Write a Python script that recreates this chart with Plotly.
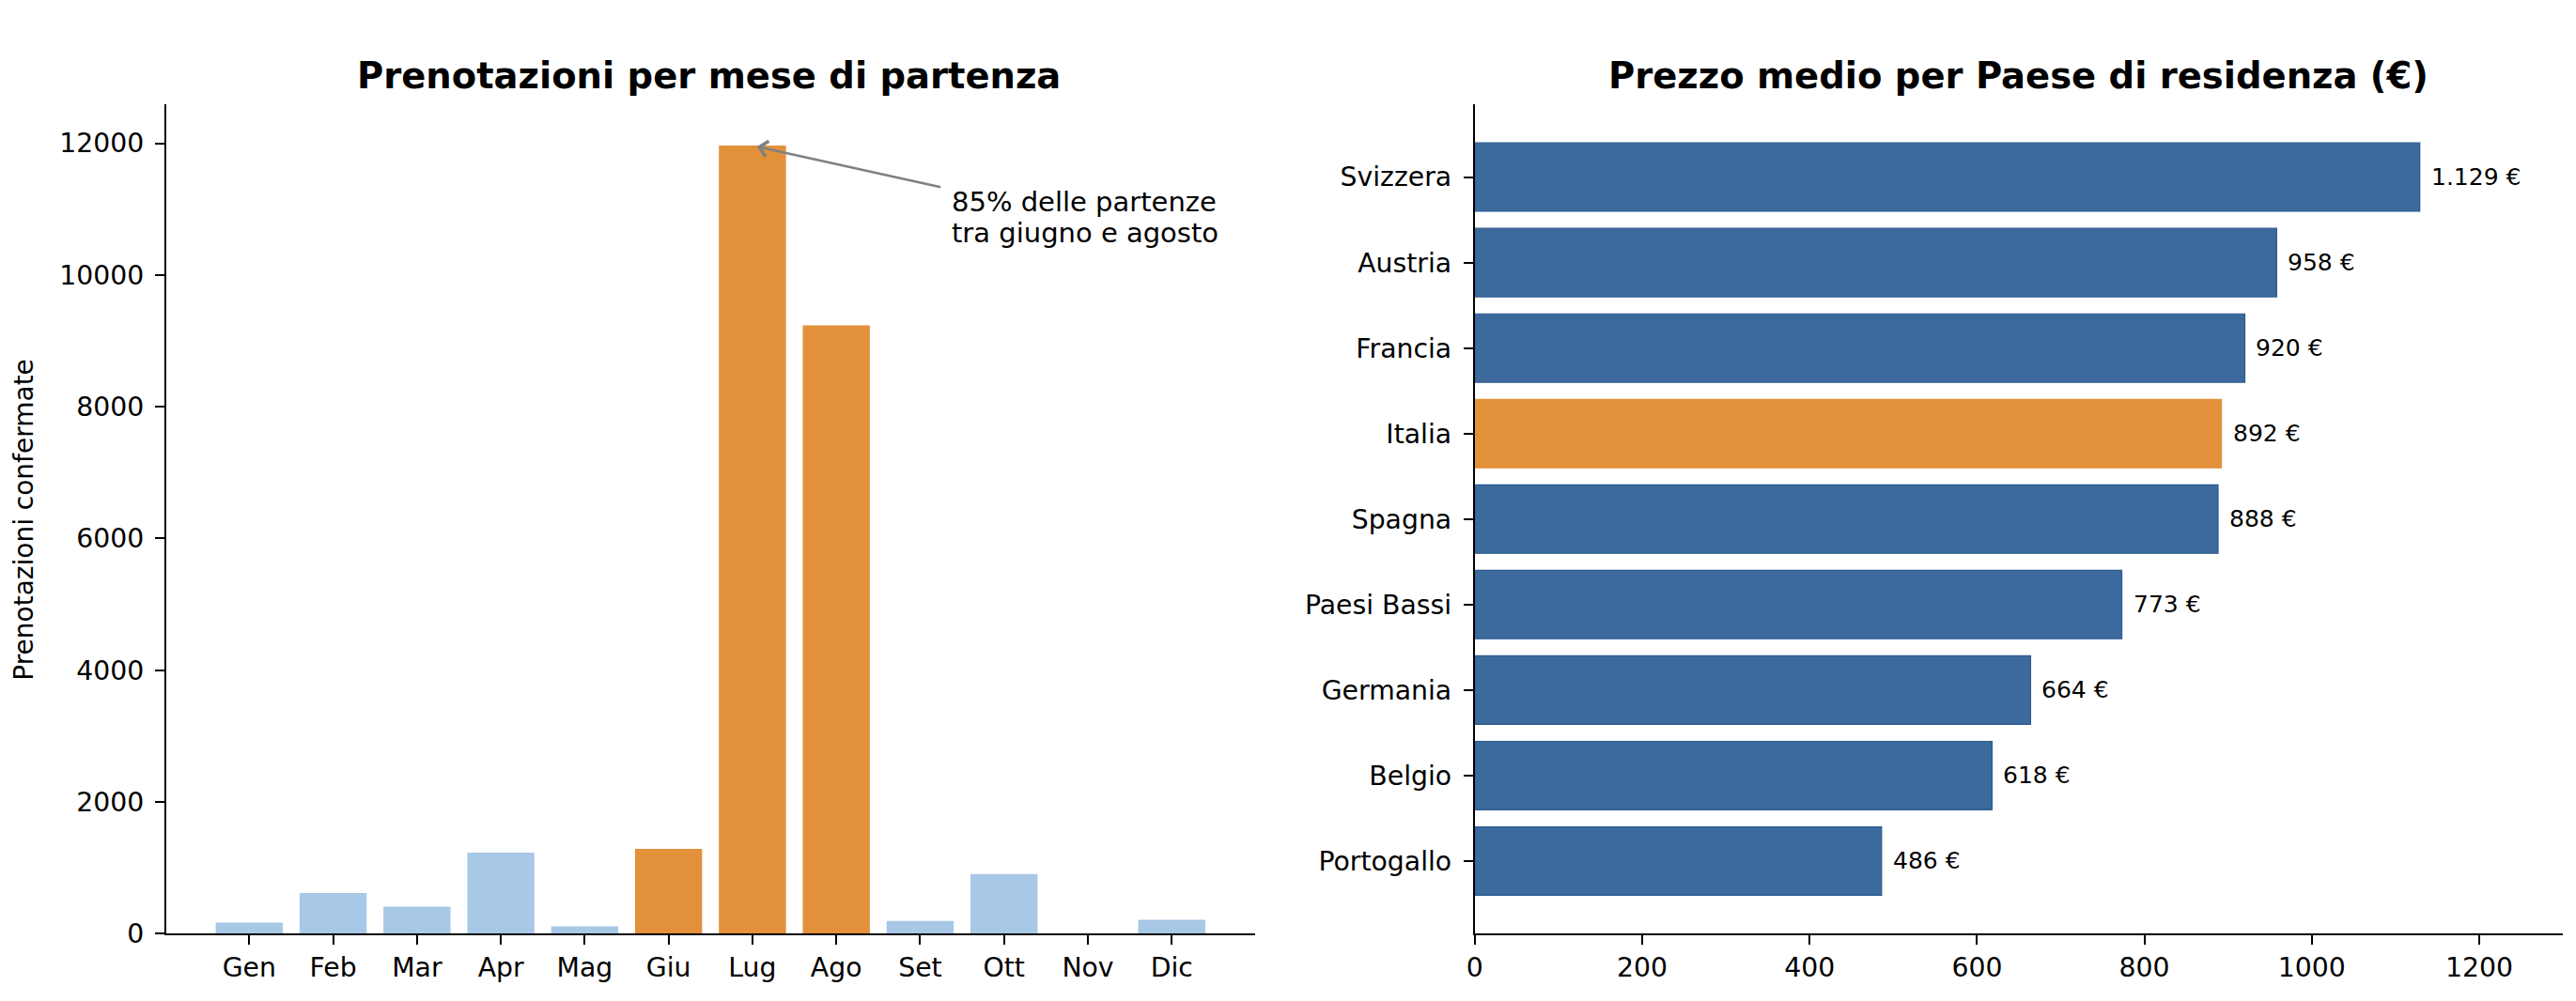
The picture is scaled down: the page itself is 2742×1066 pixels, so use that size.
import plotly.graph_objects as go

# ---- data ----
months = ["Gen", "Feb", "Mar", "Apr", "Mag", "Giu", "Lug", "Ago", "Set", "Ott", "Nov", "Dic"]
bookings = [171, 617, 413, 1230, 114, 1290, 11965, 9235, 195, 907, 0, 214]
summer_months = ["Giu", "Lug", "Ago"]

countries = ["Svizzera", "Austria", "Francia", "Italia", "Spagna", "Paesi Bassi", "Germania", "Belgio", "Portogallo"]
avg_price = [1129, 958, 920, 892, 888, 773, 664, 618, 486]
highlight_country = "Italia"

left_yticks = [0, 2000, 4000, 6000, 8000, 10000, 12000]
right_xticks = [0, 200, 400, 600, 800, 1000, 1200]
note_lines = ["85% delle partenze", "tra giugno e agosto"]

# ---- styles ----
ORANGE = "#E2913A"
LIGHT_BLUE = "#A7C8E7"
DARK_BLUE = "#3D6A9C"
FONT = "DejaVu Sans"
W, H = 2742, 1066

def py(pix):
    """pixel from top -> paper fraction"""
    return (H - pix) / H

month_colors = [ORANGE if m in summer_months else LIGHT_BLUE for m in months]
country_colors = [ORANGE if c == highlight_country else DARK_BLUE for c in countries]
country_edges = ["#E2913A" if c == highlight_country else "#2B5A8E" for c in countries]

def fmt_eur(v):
    return f"{v:,}".replace(",", ".") + " €"

fig = go.Figure()
fig.add_trace(go.Bar(
    x=months, y=bookings, marker=dict(color=month_colors, line=dict(width=0)),
    width=0.8, xaxis="x", yaxis="y", showlegend=False, hoverinfo="x+y"))
fig.add_trace(go.Bar(
    x=avg_price, y=countries, orientation="h",
    marker=dict(color=country_colors, line=dict(color=country_edges, width=1.2)),
    width=0.8, xaxis="x2", yaxis="y2", showlegend=False, hoverinfo="x+y"))

dom_y = [py(1010.5), py(113)]
axis_common = dict(showline=True, linecolor="black", linewidth=2, ticks="outside",
                   ticklen=10, tickwidth=2, tickcolor="black", showgrid=False,
                   zeroline=False, tickfont=dict(family=FONT, size=28.3, color="black"))

fig.update_layout(
    width=W, height=H, autosize=False,
    margin=dict(l=0, r=0, t=0, b=0),
    paper_bgcolor="white", plot_bgcolor="white",
    font=dict(family=FONT, color="black"),
    xaxis=dict(domain=[168.5 / W, 1331 / W], anchor="y", type="category",
               categoryorder="array", categoryarray=months,
               range=[-0.99, len(months) - 1 + 0.99], **axis_common),
    yaxis=dict(domain=dom_y, anchor="x", range=[0, 12590], ticklabelstandoff=6,
               tickvals=left_yticks, ticktext=[str(t) for t in left_yticks], **axis_common),
    xaxis2=dict(domain=[1566 / W, 2728 / W], anchor="y2", range=[0, 1300],
                tickvals=right_xticks, ticktext=[str(t) for t in right_xticks], **axis_common),
    yaxis2=dict(domain=dom_y, anchor="x2", type="category", ticklabelstandoff=7,
                categoryorder="array", categoryarray=countries,
                range=[len(countries) - 1 + 0.85, -0.85], **axis_common),
)

annotations = [
    dict(text="<b>Prenotazioni per mese di partenza</b>", x=748 / W, y=py(82),
         xref="paper", yref="paper", showarrow=False, xanchor="center", yanchor="middle",
         font=dict(family=FONT, size=38.5, color="black")),
    dict(text="<b>Prezzo medio per Paese di residenza (€)</b>", x=2147 / W, y=py(82),
         xref="paper", yref="paper", showarrow=False, xanchor="center", yanchor="middle",
         font=dict(family=FONT, size=38.5, color="black")),
    dict(text="Prenotazioni confermate", x=17 / W, y=(dom_y[0] + dom_y[1]) / 2,
         xref="paper", yref="paper", showarrow=False, textangle=-90,
         xanchor="center", yanchor="middle", font=dict(family=FONT, size=28, color="black")),
    # arrow only
    dict(text="", x="Lug", y=bookings[months.index("Lug")], xref="x", yref="y",
         ax=8.26, ay=11330, axref="x", ayref="y", showarrow=True,
         arrowhead=4, arrowsize=1.3, arrowwidth=2.5, arrowcolor="#808080", standoff=5),
]
for i, line in enumerate(note_lines):
    annotations.append(dict(text=line, x=1005 / W, y=py(218 + 34.5 * i), xref="paper", yref="paper",
                            showarrow=False, xanchor="left", yanchor="middle",
                            font=dict(family=FONT, size=29, color="black")))
for c, v in zip(countries, avg_price):
    annotations.append(dict(text=fmt_eur(v), x=v, y=c, xref="x2", yref="y2",
                            showarrow=False, xanchor="left", yanchor="middle", xshift=10,
                            font=dict(family=FONT, size=25, color="black")))
fig.update_layout(annotations=annotations)

fig.write_html("out.html")
